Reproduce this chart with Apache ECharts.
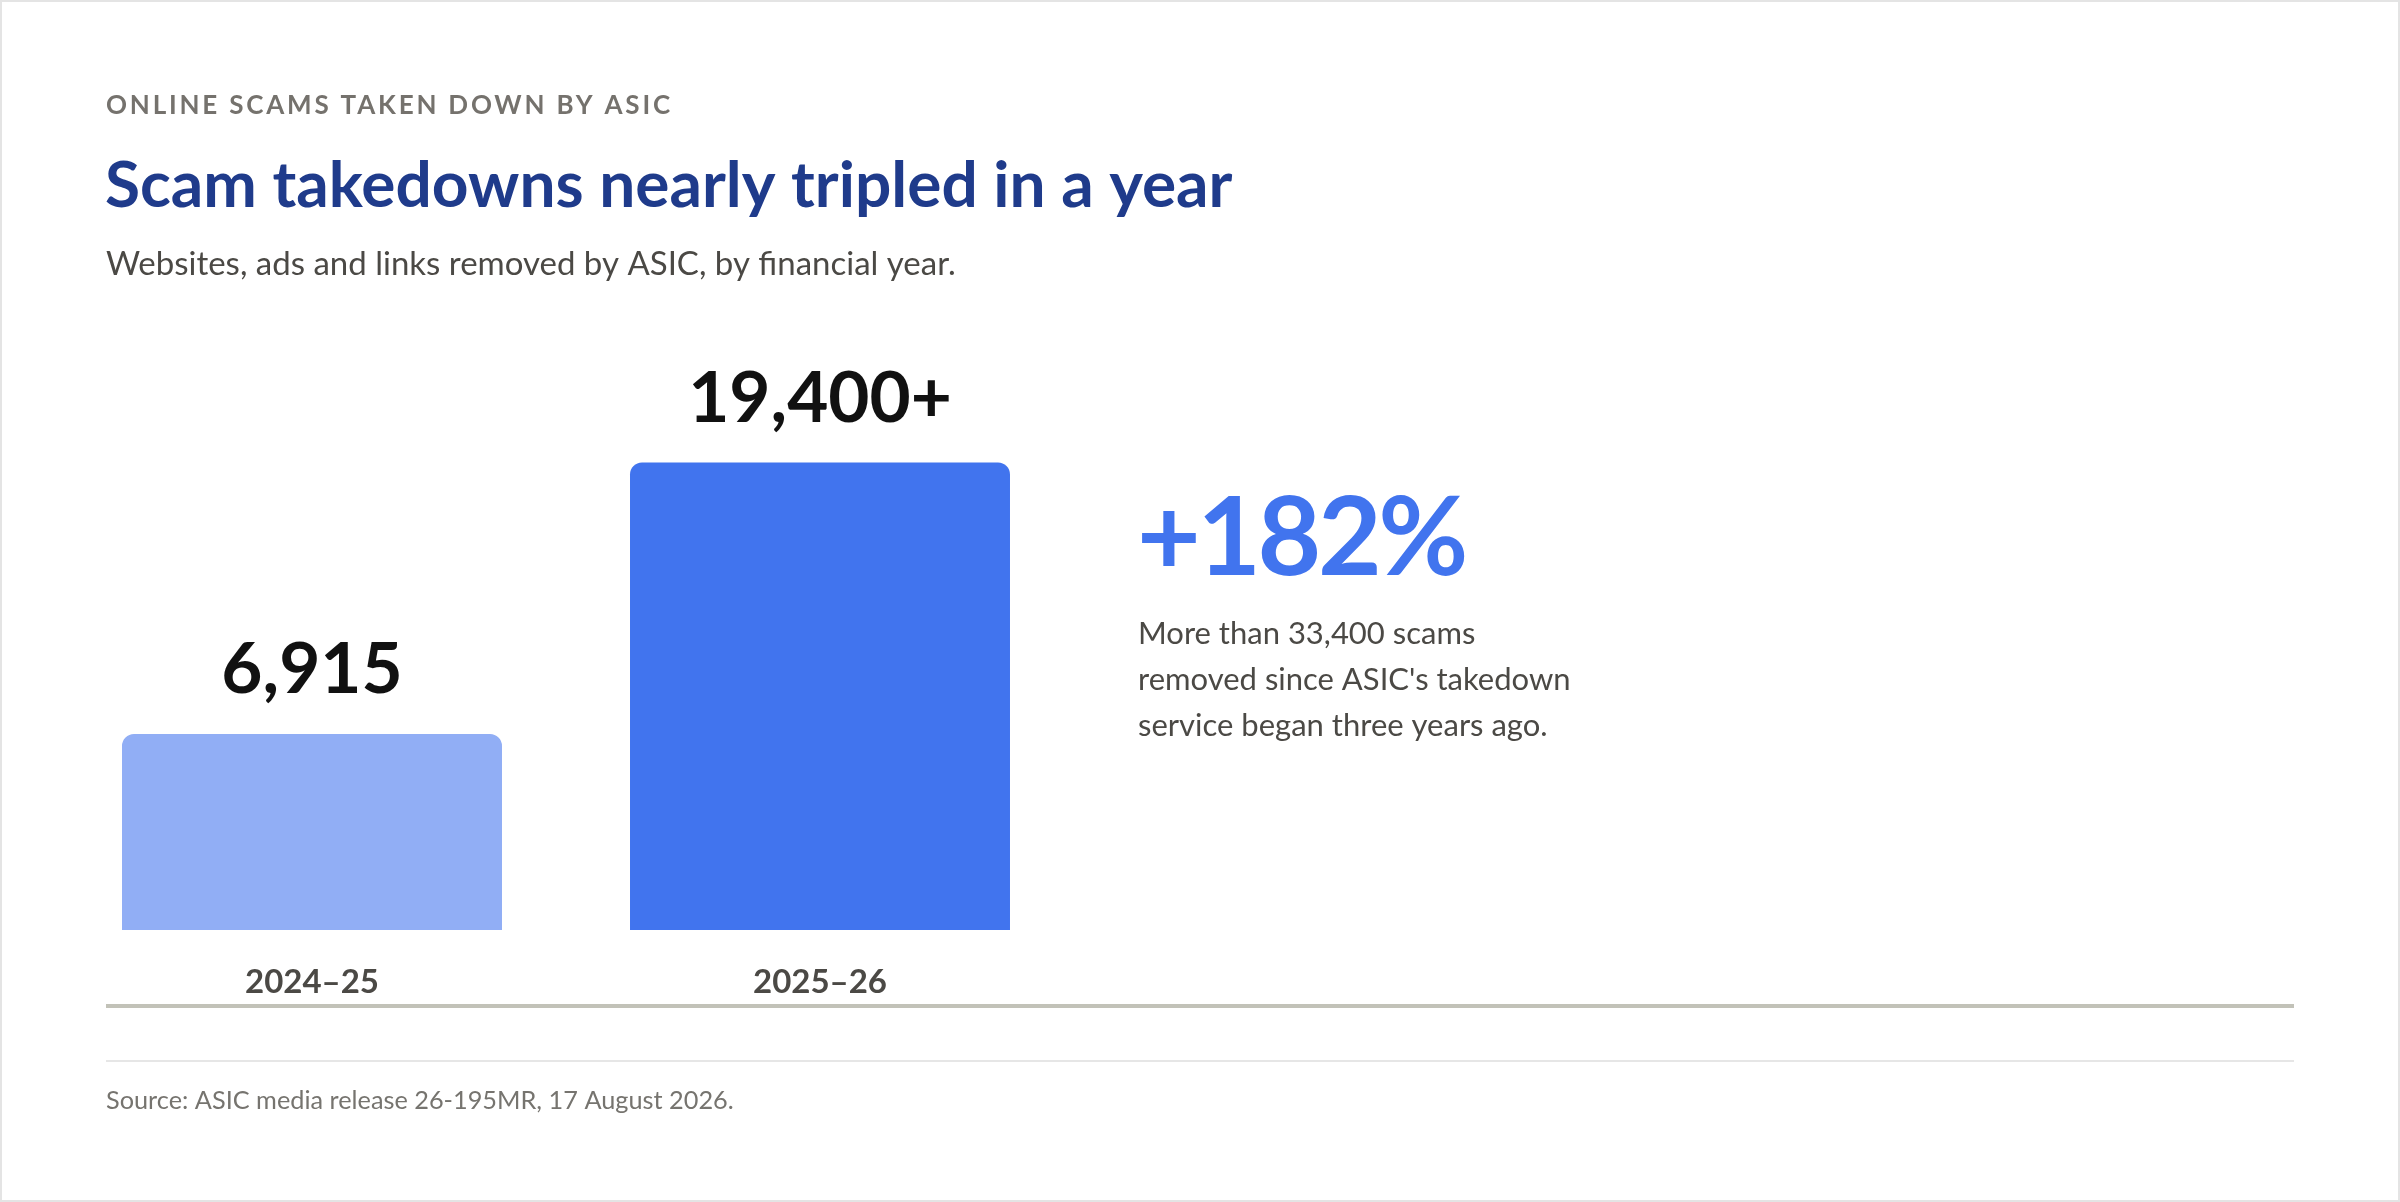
<!DOCTYPE html>
<html>
<head>
<meta charset="utf-8">
<title>Scam takedowns nearly tripled in a year</title>
<script src="https://cdn.jsdelivr.net/npm/echarts@6/dist/echarts.min.js"></script>
<style>
  html, body { margin: 0; padding: 0; background: #ffffff; }
  #chart { width: 2400px; height: 1202px; }
</style>
</head>
<body>
<div id="chart"></div>
<script>
// values
const years = ['2024–25', '2025–26'];
const takedowns = [6915, 19400];
const valueLabels = ['6,915', '19,400+'];
const barColors = ['#91aef5', '#4174ee'];

const kicker = 'ONLINE SCAMS TAKEN DOWN BY ASIC';
const headline = 'Scam takedowns nearly tripled in a year';
const subhead = 'Websites, ads and links removed by ASIC, by financial year.';
const changeLabel = '+182%';
const changeNote = [
	'More than 33,400 scams',
	"removed since ASIC's takedown",
	'service began three years ago.',
];
const sourceNote = 'Source: ASIC media release 26-195MR, 17 August 2026.';

// the bars in the original don't start from zero, so the axis floor sits below it
const Y_MIN = -2100;
const Y_MAX = 20000;
const FONT = 'Lato, "Noto Sans", sans-serif';

// zrender has no letter-spacing option, so set it on the canvas for the texts that need it
const tracking = {};
tracking[kicker] = '2.8px';
tracking[changeLabel] = '-3.5px';
const ctxProto = CanvasRenderingContext2D.prototype;
const baseFillText = ctxProto.fillText;
ctxProto.fillText = function (text) {
	const spacing = tracking[text];
	if (!spacing || !('letterSpacing' in this)) {
		return baseFillText.apply(this, arguments);
	}
	const font = this.font;
	this.letterSpacing = spacing;
	this.font = font;
	baseFillText.apply(this, arguments);
	// put it back, and re-set the font so chrome drops the spacing for real
	this.letterSpacing = '0px';
	this.font = '10px sans-serif';
	this.font = font;
};

const myChart = echarts.init(document.getElementById('chart'));

const option = {
	backgroundColor: '#ffffff',
	animation: false,
	grid: {
		left: 58,
		width: 1016,
		top: 449.5,
		bottom: 272,
	},
	xAxis: {
		type: 'category',
		data: years,
		axisLine: { show: false },
		axisTick: { show: false },
		axisLabel: {
			margin: 36,
			fontFamily: FONT,
			fontSize: 33,
			fontWeight: 'bold',
			color: '#4b4945',
		},
	},
	yAxis: {
		type: 'value',
		min: Y_MIN,
		max: Y_MAX,
		show: false,
		splitLine: { show: false },
	},
	series: [
		{
			type: 'custom',
			data: takedowns.map((v, i) => [i, v]),
			renderItem: function (params, api) {
				const top = api.coord([api.value(0), api.value(1)]);
				const base = api.coord([api.value(0), Y_MIN]);
				const w = api.size([1, 0])[0] * 0.748;
				return {
					type: 'rect',
					shape: {
						x: top[0] - w / 2,
						y: top[1],
						width: w,
						height: base[1] - top[1],
						r: [12, 12, 0, 0],
					},
					style: { fill: barColors[params.dataIndex] },
					textContent: {
						style: {
							text: valueLabels[params.dataIndex],
							fontFamily: FONT,
							fontSize: 71,
							fontWeight: 'bold',
							fill: '#111111',
						},
					},
					textConfig: { position: 'top', distance: 28 },
				};
			},
		},
	],
	graphic: [
		{
			type: 'rect',
			shape: { x: 1, y: 1, width: 2398, height: 1200 },
			style: { fill: 'none', stroke: '#e4e4e4', lineWidth: 2 },
			silent: true,
		},
		{
			type: 'text',
			x: 106,
			y: 106,
			style: {
				text: kicker,
				fontFamily: FONT,
				fontSize: 26,
				fontWeight: 'bold',
				fill: '#75726d',
				verticalAlign: 'middle',
			},
		},
		{
			type: 'text',
			x: 105,
			y: 186,
			style: {
				text: headline,
				fontFamily: FONT,
				fontSize: 64,
				fontWeight: 'bold',
				fill: '#1f3b8b',
				verticalAlign: 'middle',
			},
		},
		{
			type: 'text',
			x: 106,
			y: 264,
			style: {
				text: subhead,
				fontFamily: FONT,
				fontSize: 33,
				fill: '#4b4945',
				verticalAlign: 'middle',
			},
		},
		{
			type: 'text',
			x: 1137,
			y: 540,
			style: {
				text: changeLabel,
				fontFamily: FONT,
				fontSize: 110,
				fontWeight: 'bold',
				fill: '#4174ee',
				verticalAlign: 'middle',
			},
		},
		{
			type: 'text',
			x: 1138,
			y: 611,
			style: {
				text: changeNote.join('\n'),
				fontFamily: FONT,
				fontSize: 31,
				lineHeight: 46,
				fill: '#4b4945',
				verticalAlign: 'top',
			},
		},
		{
			type: 'line',
			shape: { x1: 106, y1: 1006, x2: 2294, y2: 1006 },
			style: { stroke: '#c2c2b8', lineWidth: 4 },
		},
		{
			type: 'line',
			shape: { x1: 106, y1: 1061, x2: 2294, y2: 1061 },
			style: { stroke: '#e6e6e6', lineWidth: 2 },
		},
		{
			type: 'text',
			x: 106,
			y: 1101,
			style: {
				text: sourceNote,
				fontFamily: FONT,
				fontSize: 25.3,
				fill: '#76746f',
				verticalAlign: 'middle',
			},
		},
	],
};

myChart.setOption(option);
</script>
</body>
</html>
